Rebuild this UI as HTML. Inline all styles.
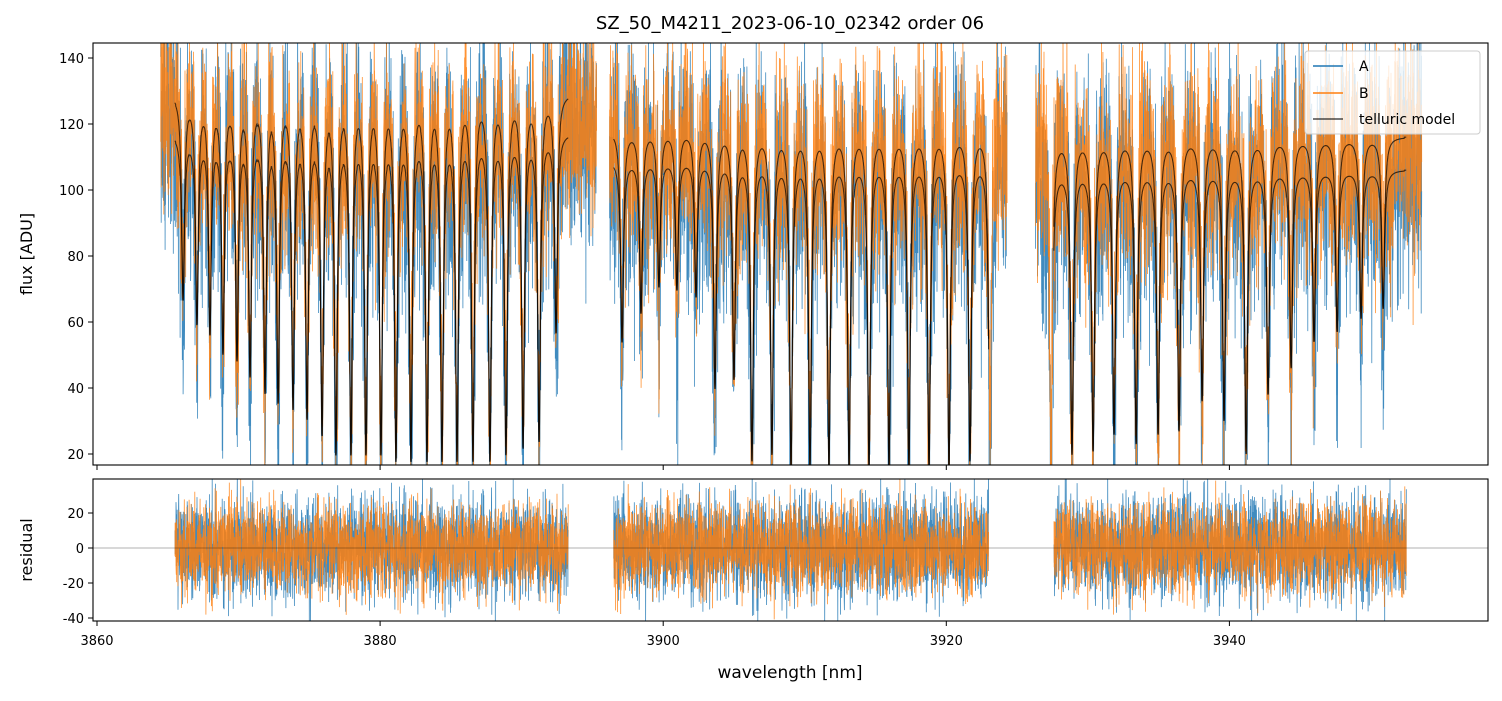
<!DOCTYPE html>
<html><head><meta charset="utf-8"><style>
body{margin:0;background:#fff;font-family:"Liberation Sans","DejaVu Sans",sans-serif}
svg text{font-family:"DejaVu Sans","Liberation Sans",sans-serif}
</style></head><body>
<svg id="chart" width="1502" height="696" xmlns="http://www.w3.org/2000/svg">
<defs>
<clipPath id="clipTop"><rect x="93" y="43" width="1395" height="422"/></clipPath>
<clipPath id="clipBot"><rect x="93" y="479" width="1395" height="142"/></clipPath>
</defs>
<text x="790" y="29" font-size="18" text-anchor="middle">SZ_50_M4211_2023-06-10_02342  order 06</text>
<g id="topData" clip-path="url(#clipTop)"></g>
<g id="botData" clip-path="url(#clipBot)"></g>
<rect x="93" y="43" width="1395" height="422" fill="none" stroke="#000" stroke-width="1.1"/>
<rect x="93" y="479" width="1395" height="142" fill="none" stroke="#000" stroke-width="1.1"/>
<g id="axes"></g>
<text transform="translate(32,254) rotate(-90)" font-size="16" text-anchor="middle">flux [ADU]</text>
<text transform="translate(32,550) rotate(-90)" font-size="16" text-anchor="middle">residual</text>
<text x="790" y="678" font-size="17" text-anchor="middle">wavelength [nm]</text>
<g>
<rect x="1305" y="51" width="175" height="83" rx="3" fill="#fff" fill-opacity="0.8" stroke="#ccc"/>
<g><line x1="1313" y1="66" x2="1343" y2="66" stroke="#1f77b4" stroke-width="1.5"/><text x="1359" y="71" font-size="14">A</text></g>
<g><line x1="1313" y1="93" x2="1343" y2="93" stroke="#ff7f0e" stroke-width="1.5"/><text x="1359" y="98" font-size="14">B</text></g>
<g><line x1="1313" y1="119" x2="1343" y2="119" stroke="#000" stroke-opacity="0.7" stroke-width="1.5"/><text x="1359" y="124" font-size="14">telluric model</text></g>
</g>
</svg>
<script>
// ---- data ----
const xTicks = [3860, 3880, 3900, 3920, 3940];
const yTicksTop = [20, 40, 60, 80, 100, 120, 140];
const yTicksBot = [-40, -20, 0, 20];
const segStart = [3865.5, 3896.5, 3927.6];
const segEnd   = [3893.3, 3923.0, 3952.5];
const contA = [129, 118, 116];
const contB = [117, 109, 106];
const dataStart = 3864.5, dataEnd = 3953.6;
const gapStart = [3895.3, 3924.3], gapEnd = [3896.2, 3926.3];
const lineCenters = [
 3866.08,3867.06,3867.98,3868.90,3869.89,3870.81,3871.87,3872.79,3873.85,3874.84,3875.90,3876.88,3877.94,3879.00,3880.06,3881.12,3882.18,3883.31,3884.37,3885.43,3886.56,3887.76,3888.89,3890.10,3891.23,3892.43,
 3897.09,3898.43,3899.70,3900.97,3902.32,3903.66,3905.00,3906.27,3907.68,3909.03,3910.37,3911.71,3913.13,3914.54,3915.95,3917.36,3918.78,3920.19,3921.67,3923.08,
 3927.40,3928.88,3930.37,3931.85,3933.41,3934.96,3936.44,3938.07,3939.62,3941.18,3942.73,3944.36,3945.98,3947.61,3949.30,3950.86];
const lineMin = [
 67,60,57,51,49,44,39,36,34,31,26,20,20,20,20,18,18,18,18,18,18,18,20,22,24,57,
 54,63,71,70,68,40,43,18,20,16,16,16,16,16,16,16,16,16,18,20,
 16,20,21,26,23,26,27,36,30,20,38,46,54,57,61,64];
const noiseSigmaA = 19, noiseSigmaB = 16;
const residSigmaA = 15, residSigmaB = 13;

// ---- axes ----
const X = v => 97 + (v - 3860) * 14.155;
const YT = v => 454 - (v - 20) * 3.3;
const YB = v => 548 - v * 1.75;
const NS = 'http://www.w3.org/2000/svg';
function mk(tag, attrs, parent){const e=document.createElementNS(NS,tag);for(const k in attrs)e.setAttribute(k,attrs[k]);parent.appendChild(e);return e;}
const axesG = document.getElementById('axes');
xTicks.forEach(t=>{
  const l1=mk('line',{x1:X(t),x2:X(t),y1:465,y2:470,stroke:'#000'},axesG);
  
  
  const l2=mk('line',{x1:X(t),x2:X(t),y1:621,y2:626,stroke:'#000'},axesG);
  
  
  const tx=mk('text',{x:X(t),y:645,'font-size':13,'text-anchor':'middle'},axesG);
  tx.textContent=t;
  
  
});
yTicksTop.forEach(t=>{
  const l=mk('line',{x1:88,x2:93,y1:YT(t),y2:YT(t),stroke:'#000'},axesG);
  
  
  const tx=mk('text',{x:84,y:YT(t)+5,'font-size':13,'text-anchor':'end'},axesG);
  tx.textContent=t;
  
  
});
yTicksBot.forEach(t=>{
  const l=mk('line',{x1:88,x2:93,y1:YB(t),y2:YB(t),stroke:'#000'},axesG);
  
  
  const tx=mk('text',{x:84,y:YB(t)+5,'font-size':13,'text-anchor':'end'},axesG);
  tx.textContent=t;
  
  
});

// ---- model ----
function segOf(w){for(let i=0;i<2;i++){if(w<=(segEnd[i]+segStart[i+1])/2)return i;}return 2;}
function model(w, cont){
  let f=1;
  for(let i=0;i<lineCenters.length;i++){
    const d=w-lineCenters[i]; if(Math.abs(d)>1.5)continue;
    const frac=Math.max(0,1-lineMin[i]/cont);
    const g=0.12, prof=g*g/(d*d+g*g);
    f*=1-frac*Math.min(1,prof);
  }
  return cont*f;
}
// deterministic noise texture
let seed=12345;
function rnd(){seed|=0;seed=seed+0x6D2B79F5|0;let t=Math.imul(seed^seed>>>15,1|seed);t=t+Math.imul(t^t>>>7,61|t)^t;return((t^t>>>14)>>>0)/4294967296;}
function gauss(){return (rnd()+rnd()+rnd()+rnd()-2)*1.73;}

const topG=document.getElementById('topData'), botG=document.getElementById('botData');
const step=0.012;
let pA=[],pB=[],rA=[],rB=[];
function inGap(w){for(let i=0;i<2;i++)if(w>gapStart[i]&&w<gapEnd[i])return true;return false;}
function inSeg(w){for(let i=0;i<3;i++)if(w>=segStart[i]&&w<=segEnd[i])return true;return false;}
let prevGap=true, prevSeg=false;
for(let w=dataStart;w<=dataEnd;w+=step){
  const s=segOf(w);
  const mA=model(w,contA[s]), mB=model(w,contB[s]);
  const nA=gauss()*noiseSigmaA, nB=gauss()*noiseSigmaB;
  const g=inGap(w);
  if(!g){
    const c=prevGap?'M':'L';
    pA.push(c+X(w).toFixed(1)+','+YT(mA-8+nA).toFixed(1));
    pB.push(c+X(w).toFixed(1)+','+YT(mB+6+nB).toFixed(1));
  }
  prevGap=g;
  const sg=inSeg(w);
  if(sg){
    const c=prevSeg?'L':'M';
    rA.push(c+X(w).toFixed(1)+','+YB(gauss()*residSigmaA).toFixed(1));
    rB.push(c+X(w).toFixed(1)+','+YB(gauss()*residSigmaB).toFixed(1));
  }
  prevSeg=sg;
}
const la=mk('path',{d:pA.join(''),fill:'none',stroke:'#1f77b4','stroke-width':0.8,'stroke-opacity':0.85},topG);


const lb=mk('path',{d:pB.join(''),fill:'none',stroke:'#ff7f0e','stroke-width':0.8,'stroke-opacity':0.85},topG);


for(let k=0;k<2;k++){
  for(let i=0;i<3;i++){
    let d=[];
    for(let w=segStart[i];w<=segEnd[i];w+=0.01){
      d.push((d.length?'L':'M')+X(w).toFixed(1)+','+YT(model(w,k?contB[i]:contA[i])).toFixed(1));
    }
    const m=mk('path',{d:d.join(''),fill:'none',stroke:'#000','stroke-opacity':0.7,'stroke-width':1.1},topG);
    
    
  }
}
const ra=mk('path',{d:rA.join(''),fill:'none',stroke:'#1f77b4','stroke-width':0.8,'stroke-opacity':0.85},botG);


const rb=mk('path',{d:rB.join(''),fill:'none',stroke:'#ff7f0e','stroke-width':0.8,'stroke-opacity':0.85},botG);


const z=mk('line',{x1:93,x2:1488,y1:YB(0),y2:YB(0),stroke:'#000','stroke-width':0.6,'stroke-opacity':0.6},botG);


</script>
</body></html>
